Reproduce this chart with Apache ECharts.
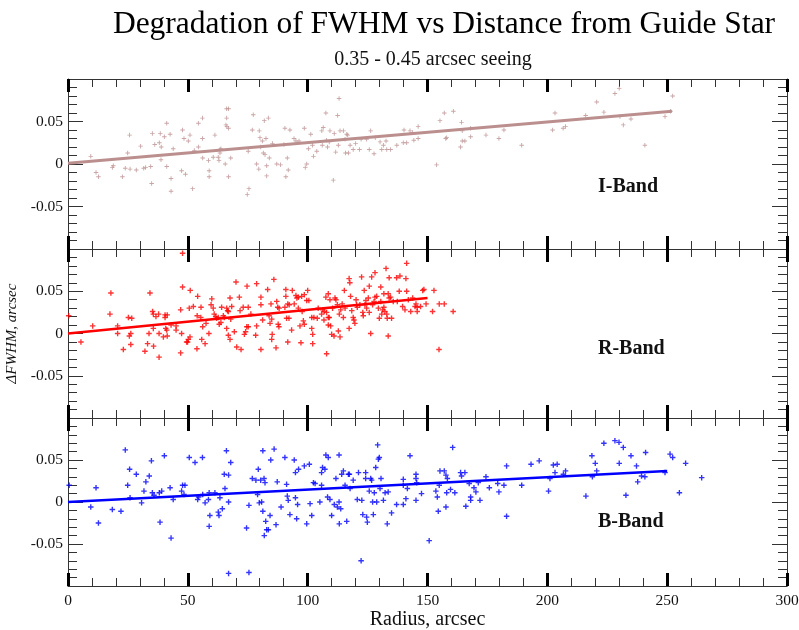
<!DOCTYPE html>
<html>
<head>
<meta charset="utf-8">
<script src="https://cdn.jsdelivr.net/npm/echarts@6/dist/echarts.min.js"></script>
<style>
  html, body { margin: 0; padding: 0; background: #fff; }
  #chart { width: 799px; height: 630px; }
</style>
</head>
<body>
<div id="chart"></div>
<script>
// x ticks and band names
var xTicks = [0, 50, 100, 150, 200, 250, 300];
var bands = ['I-Band', 'R-Band', 'B-Band'];

// I-band points [radius, dFWHM]
var iBand = [
  [9.5,0.009],[11.7,-0.010],[12.7,-0.015],[18.9,-0.002],[18.5,-0.004],[22.7,-0.015],[23.9,-0.005],[24.9,0.013],
  [25.7,0.034],[25.9,-0.006],[28.5,-0.007],[30.3,0.021],[31.6,-0.005],[32.4,-0.004],[34.5,-0.003],[34.9,-0.023],
  [35.2,0.036],[36.2,0.023],[38.1,0.025],[38.5,0.036],[38.9,0.020],[38.8,0.005],[40.2,0.032],[41.2,0.048],
  [41.2,-0.003],[42.6,0.035],[43.0,-0.017],[43.0,-0.032],[43.9,0.018],[47.4,-0.008],[47.8,0.040],[48.4,0.030],
  [49.0,-0.012],[50.2,0.027],[50.9,0.034],[52.0,-0.029],[52.7,0.016],[54.4,0.048],[54.4,0.020],[56.1,0.054],
  [56.1,0.030],[56.2,0.007],[58.6,0.004],[58.9,-0.008],[58.9,-0.015],[60.6,0.008],[61.3,0.034],[62.7,0.008],
  [63.0,0.004],[63.4,0.017],[63.4,0.013],[63.8,0.018],[65.6,0.000],[65.9,0.046],[66.2,0.054],[66.2,0.065],
  [67.0,0.065],[66.3,0.044],[67.0,0.042],[67.0,-0.015],[67.9,0.007],[74.8,-0.036],[75.5,-0.029],[75.2,0.015],
  [77.3,0.058],[76.9,0.040],[78.7,0.000],[79.6,-0.006],[79.8,0.039],[80.1,0.031],[80.4,0.020],[81.1,0.027],
  [81.5,0.013],[81.9,0.051],[82.2,0.011],[82.6,0.030],[82.9,-0.014],[82.9,-0.002],[83.6,0.054],[84.0,0.007],
  [85.3,0.024],[87.1,0.000],[88.7,-0.001],[90.1,0.023],[90.5,0.042],[90.9,-0.015],[91.5,0.007],[91.9,-0.007],
  [92.6,0.040],[94.3,0.030],[95.1,0.027],[96.4,0.027],[98.6,0.042],[99.0,-0.004],[99.6,0.000],[100.3,0.018],
  [101.3,0.035],[102.0,0.022],[102.4,0.009],[103.8,0.015],[105.9,0.039],[106.1,0.022],[106.5,0.043],[107.6,0.060],
  [107.9,0.028],[108.3,0.020],[109.0,0.026],[109.3,0.039],[110.7,-0.019],[111.1,0.036],[111.7,0.014],[112.5,0.057],
  [112.8,0.022],[113.1,0.077],[113.5,0.039],[114.9,0.039],[115.6,0.029],[115.8,0.013],[116.3,0.035],[116.7,0.034],
  [117.0,0.013],[117.7,0.022],[119.0,0.017],[120.0,0.024],[121.6,0.017],[122.3,0.029],[124.6,0.029],[126.3,0.039],
  [125.7,0.017],[127.7,0.012],[128.2,0.031],[130.2,0.026],[130.9,0.017],[131.6,0.022],[132.7,0.027],[133.0,0.017],
  [134.6,0.017],[137.2,0.022],[139.9,0.025],[141.3,0.025],[140.2,0.040],[142.7,0.039],[143.8,0.037],[144.3,0.028],
  [146.1,0.030],[146.1,0.044],[153.8,-0.001],[155.2,0.051],[157.0,0.060],[157.6,0.030],[158.0,0.031],[160.8,0.062],
  [163.8,0.020],[164.2,0.049],[164.5,0.039],[164.5,0.027],[165.6,0.027],[168.0,0.032],[168.0,0.042],[174.4,0.034],
  [179.8,0.030],[181.9,0.040],[189.3,0.022],[202.2,0.040],[203.2,0.060],[206.6,0.042],[207.6,0.044],[216.0,0.057],
  [220.6,0.073],[223.6,0.061],[228.2,0.083],[230.0,0.089],[230.3,0.056],[231.7,0.046],[234.9,0.053],[240.7,0.022],
  [249.1,0.056],[251.4,0.062],[252.3,0.080]
];

// R-band points
var rBand = [
  [0.3,0.021],[5.4,-0.010],[10.3,0.009],[17.5,0.023],[17.9,0.048],[20.7,0.009],[20.7,0.000],[23.1,-0.019],
  [25.2,0.019],[26.6,0.018],[26.2,0.000],[25.6,-0.003],[26.2,-0.013],[32.1,-0.021],[33.2,-0.012],[33.8,0.000],
  [34.2,0.048],[35.3,0.026],[35.6,0.023],[36.7,0.020],[35.6,0.006],[35.7,-0.015],[37.8,0.023],[38.0,0.000],
  [38.0,-0.028],[39.8,-0.004],[40.5,0.022],[40.5,0.019],[40.8,0.006],[41.2,0.004],[41.4,-0.003],[41.4,0.022],
  [43.0,0.010],[45.1,0.009],[45.1,0.004],[47.0,0.028],[47.4,0.000],[47.0,-0.023],[47.8,0.055],[47.8,0.095],
  [49.5,-0.010],[50.2,-0.007],[50.6,0.030],[49.9,-0.010],[50.9,-0.004],[51.0,0.051],[52.3,0.032],[54.1,0.044],
  [53.9,0.021],[55.5,0.031],[55.4,0.019],[55.8,-0.007],[56.2,0.008],[57.2,-0.012],[57.6,0.012],[58.8,0.000],
  [53.8,-0.018],[60.0,0.041],[59.7,0.034],[60.6,0.030],[61.0,0.023],[61.6,0.020],[62.0,0.018],[62.7,0.019],
  [63.1,0.011],[63.8,0.013],[64.1,0.031],[64.8,0.021],[65.2,0.019],[66.2,0.030],[66.6,0.027],[66.9,0.026],
  [67.6,0.042],[68.3,0.032],[67.9,0.017],[66.2,0.006],[66.9,-0.002],[67.6,-0.007],[69.4,0.002],[70.1,0.061],
  [70.4,-0.016],[71.5,0.043],[71.8,0.027],[72.2,-0.019],[73.1,0.031],[73.6,-0.001],[74.1,0.002],[74.6,0.008],
  [74.7,0.056],[75.2,0.008],[75.2,0.031],[76.3,0.023],[78.3,-0.002],[78.7,0.059],[78.7,0.009],[80.5,0.043],
  [80.5,0.034],[80.5,-0.019],[81.2,0.016],[83.3,0.052],[83.9,0.021],[84.3,0.012],[84.7,0.035],[85.0,0.017],
  [85.0,-0.007],[85.2,-0.001],[85.9,0.064],[86.8,-0.017],[87.1,0.038],[87.5,0.031],[87.7,0.011],[88.0,0.008],
  [88.1,0.030],[90.9,0.052],[90.9,0.044],[90.5,0.031],[91.2,0.018],[91.7,0.035],[91.7,-0.010],[92.2,0.018],
  [92.3,0.034],[93.3,0.004],[93.6,0.051],[94.4,0.035],[95.1,0.045],[95.5,0.042],[96.1,0.043],[96.1,0.030],
  [96.8,0.009],[97.2,-0.011],[97.5,0.044],[97.7,0.026],[98.2,0.015],[98.6,0.011],[98.6,0.046],[99.6,0.039],
  [100.0,0.051],[100.5,0.039],[101.7,0.019],[101.7,0.006],[102.1,-0.001],[102.6,0.019],[104.0,0.018],[104.4,0.030],
  [102.1,-0.012],[105.8,0.023],[106.3,0.028],[106.8,0.016],[106.9,0.026],[107.6,0.043],[107.9,-0.024],[107.9,0.025],
  [108.6,0.047],[108.6,0.019],[109.0,0.019],[109.3,0.040],[109.6,0.009],[108.6,0.010],[110.0,-0.001],[110.4,0.030],
  [111.0,-0.003],[111.4,0.042],[111.8,0.040],[112.4,0.034],[112.8,0.003],[113.2,0.023],[113.5,-0.004],[113.8,0.028],
  [114.4,0.035],[114.9,0.019],[115.3,0.051],[115.6,0.030],[117.3,0.065],[117.6,0.060],[117.3,0.006],[117.9,0.044],
  [118.4,0.027],[119.0,0.019],[119.3,0.016],[119.7,0.012],[120.2,0.040],[120.4,0.034],[120.7,0.031],[121.8,0.034],
  [122.5,0.067],[123.0,0.025],[123.2,0.021],[123.6,0.051],[123.9,0.034],[124.3,0.039],[124.6,0.030],[125.3,0.042],
  [125.7,0.025],[125.7,0.056],[126.3,0.000],[126.7,0.067],[127.1,0.034],[127.7,0.038],[128.1,0.072],[128.1,0.043],
  [128.8,0.044],[129.5,0.030],[129.9,0.018],[130.5,0.055],[130.5,0.038],[130.9,0.023],[131.3,0.028],[131.8,0.047],
  [131.8,0.031],[132.2,0.026],[132.7,0.077],[133.0,0.023],[133.2,0.018],[133.6,0.047],[133.6,-0.003],[134.0,0.066],
  [134.0,0.042],[134.6,0.043],[135.0,0.018],[135.7,0.038],[137.1,0.066],[137.4,0.038],[138.2,0.050],[138.5,0.068],
  [139.6,0.032],[140.6,0.028],[141.0,0.065],[141.3,0.083],[141.3,0.050],[142.0,0.040],[143.0,0.026],[143.8,0.042],
  [144.8,0.032],[145.2,0.035],[145.7,0.026],[145.7,0.031],[147.1,0.032],[148.0,0.051],[148.5,0.052],[149.4,0.035],
  [152.1,0.026],[152.7,0.051],[154.9,0.035],[154.8,-0.019],[157.0,0.035],[160.7,0.026]
];

// B-band points
var bBand = [
  [0.5,0.020],[9.5,-0.006],[11.7,0.017],[12.7,-0.025],[18.5,-0.009],[22.1,-0.011],[23.9,0.062],[24.9,0.020],
  [25.7,0.039],[25.9,0.005],[28.5,0.033],[30.7,-0.001],[31.7,0.013],[32.5,0.024],[33.9,0.031],[34.8,0.049],
  [35.2,0.011],[35.9,0.008],[38.1,0.011],[38.4,-0.024],[39.1,0.013],[40.2,0.055],[42.6,0.017],[43.0,-0.043],
  [43.9,0.003],[47.4,0.013],[47.8,0.020],[48.8,0.020],[48.4,0.009],[50.6,0.053],[53.0,0.047],[54.1,0.003],
  [54.5,0.006],[56.1,0.053],[56.2,0.009],[57.2,-0.001],[58.6,0.003],[58.9,0.011],[58.9,-0.029],[59.2,-0.016],
  [61.3,0.011],[62.7,-0.012],[63.0,-0.016],[63.4,0.005],[64.4,-0.008],[65.2,0.033],[65.5,0.016],[66.1,0.061],
  [67.0,0.032],[67.0,0.000],[67.0,-0.085],[67.9,0.047],[74.5,-0.031],[75.5,-0.004],[75.5,-0.084],[76.9,0.028],
  [78.4,0.026],[79.4,0.039],[79.1,0.009],[79.8,-0.001],[80.4,0.026],[80.8,0.000],[81.3,0.061],[81.3,-0.011],
  [81.8,0.028],[81.9,-0.040],[82.2,0.023],[82.5,-0.023],[82.9,-0.033],[83.6,-0.033],[84.3,-0.016],[84.6,0.050],
  [86.0,0.063],[86.8,-0.027],[87.3,0.024],[88.9,-0.006],[90.5,0.053],[91.2,0.021],[91.5,0.007],[91.9,0.002],
  [92.6,-0.015],[94.4,0.050],[94.9,0.035],[95.4,-0.020],[96.2,0.039],[94.9,0.005],[95.8,-0.003],[98.6,0.043],
  [99.6,-0.026],[100.7,0.045],[101.0,-0.002],[101.7,-0.016],[102.4,0.023],[103.1,0.022],[105.1,0.000],[105.8,0.035],
  [105.8,0.020],[106.2,0.041],[107.2,0.039],[107.6,0.056],[108.6,0.053],[108.3,0.006],[109.3,0.003],[110.0,-0.016],
  [111.1,-0.003],[111.8,0.028],[112.4,-0.006],[113.1,0.056],[113.1,0.000],[113.2,-0.026],[113.8,-0.008],[114.2,0.033],
  [114.9,0.037],[115.6,0.020],[116.3,-0.023],[117.0,0.033],[117.4,0.033],[117.7,0.016],[119.0,0.026],[120.7,0.003],
  [121.2,0.035],[122.3,-0.070],[122.6,0.002],[123.0,-0.015],[124.2,0.035],[124.2,0.028],[124.6,-0.018],[124.9,-0.024],
  [125.7,0.013],[126.3,0.028],[126.7,0.026],[127.1,0.000],[127.4,-0.015],[127.8,0.011],[128.4,0.041],[128.8,0.000],
  [129.2,0.068],[129.5,0.051],[129.9,0.053],[130.2,0.016],[130.6,0.028],[131.6,0.002],[132.3,0.011],[133.2,-0.026],
  [133.6,0.012],[135.0,-0.013],[137.1,-0.003],[139.9,0.027],[139.9,0.020],[139.9,-0.003],[141.0,0.004],[141.6,0.016],
  [142.7,0.055],[145.2,0.033],[145.2,0.028],[145.5,0.023],[145.2,0.002],[147.5,0.010],[150.7,-0.046],[153.5,0.013],
  [154.1,0.006],[154.5,-0.011],[154.9,0.020],[155.2,0.037],[157.0,0.037],[157.7,0.032],[158.0,0.011],[158.3,0.028],
  [157.7,-0.006],[159.6,0.015],[160.5,0.065],[161.4,0.011],[163.8,0.035],[164.2,0.031],[165.6,0.035],[166.0,-0.005],
  [167.4,0.022],[168.0,0.002],[168.0,0.006],[169.4,0.017],[170.2,0.012],[171.2,0.023],[171.9,0.002],[174.4,0.030],
  [175.8,0.017],[179.3,0.022],[179.8,0.012],[181.9,0.020],[183.0,0.043],[183.0,-0.017],[189.3,0.020],[193.2,0.045],
  [196.6,0.049],[200.5,0.013],[201.1,0.028],[202.5,0.044],[203.2,0.035],[204.1,0.045],[206.7,0.033],[207.6,0.037],
  [216.1,0.007],[218.6,0.055],[218.8,0.030],[220.0,0.046],[220.6,0.037],[223.6,0.070],[228.2,0.073],[229.9,0.071],
  [230.0,0.046],[231.7,0.065],[232.8,0.008],[234.9,0.055],[237.2,0.043],[237.7,0.024],[239.3,0.031],[240.7,0.030],
  [241.0,0.059],[249.1,0.035],[251.2,0.057],[252.3,0.053],[255.1,0.011],[257.7,0.046],[264.4,0.029]
];

// linear fits (end points)
var iFit = [[0, 0.001], [252, 0.062]];
var rFit = [[0, 0.000], [150, 0.042]];
var bFit = [[0, 0.000], [250, 0.037]];

var colors = ['#bc8f8f', '#ff0000', '#0000ff'];
var pointSets = [iBand, rBand, bBand];
var fitSets = [iFit, rFit, bFit];

var serif = '"Liberation Serif", "DejaVu Serif", serif';
var thinPlus = 'path://M2,0 L3,0 L3,2 L5,2 L5,3 L3,3 L3,5 L2,5 L2,3 L0,3 L0,2 L2,2 Z';
var boldPlus = 'path://M3,0 L5,0 L5,3 L8,3 L8,5 L5,5 L5,8 L3,8 L3,5 L0,5 L0,3 L3,3 Z';
var axisColor = '#333';

// outerBoundsMode none: keep the panels where they are, labels may reach the edge
var grids = [
  { left: 68, right: 12, top: 79, height: 170, outerBoundsMode: 'none' },
  { left: 68, right: 12, top: 249, height: 169, outerBoundsMode: 'none' },
  { left: 68, right: 12, top: 418, height: 168, outerBoundsMode: 'none' }
];

var xAxes = [], yAxes = [], series = [];
for (var i = 0; i < 3; i++) {
  var isLast = i === 2;
  // bottom x axis
  xAxes.push({
    gridIndex: i, type: 'value', position: 'bottom',
    min: xTicks[0], max: xTicks[xTicks.length - 1], interval: 50,
    axisLine: { show: true, onZero: false, lineStyle: { color: axisColor, width: 1 } },
    axisTick: { show: true, inside: true, length: 13, lineStyle: { color: '#000', width: 3 } },
    minorTick: { show: true, splitNumber: 5, length: 8, lineStyle: { color: axisColor, width: 1 } },
    splitLine: { show: false },
    axisLabel: { show: isLast, color: '#111', fontFamily: serif, fontSize: 15.5, margin: 7 },
    name: isLast ? 'Radius, arcsec' : '',
    nameLocation: 'middle', nameGap: 22,
    nameTextStyle: { color: '#111', fontFamily: serif, fontSize: 20 }
  });
  // top x axis (ticks only)
  xAxes.push({
    gridIndex: i, type: 'value', position: 'top',
    min: 0, max: 300, interval: 50,
    axisLine: { show: true, onZero: false, lineStyle: { color: axisColor, width: 1 } },
    axisTick: { show: true, inside: true, length: 13, lineStyle: { color: '#000', width: 3 } },
    minorTick: { show: true, splitNumber: 5, length: 8, lineStyle: { color: axisColor, width: 1 } },
    splitLine: { show: false },
    axisLabel: { show: false }
  });
  // left y axis
  yAxes.push({
    gridIndex: i, type: 'value', position: 'left',
    min: -0.1, max: 0.1, interval: 0.05,
    axisLine: { show: true, onZero: false, lineStyle: { color: axisColor, width: 1 } },
    axisTick: { show: true, inside: true, length: 15, lineStyle: { color: axisColor, width: 1 } },
    minorTick: { show: true, splitNumber: 5, length: 9, lineStyle: { color: axisColor, width: 1 } },
    splitLine: { show: false },
    axisLabel: {
      color: '#111', fontFamily: serif, fontSize: 15.5, margin: 5,
      formatter: function (v) {
        if (Math.abs(v) > 0.09) return '';
        if (Math.abs(v) < 1e-9) return '0';
        return String(Math.round(v * 100) / 100);
      }
    },
    name: i === 1 ? 'ΔFWHM, arcsec' : '',
    nameLocation: 'middle', nameRotate: 90, nameGap: 43,
    nameTextStyle: { color: '#111', fontFamily: serif, fontSize: 15, fontStyle: 'italic' }
  });
  // right y axis (ticks only)
  yAxes.push({
    gridIndex: i, type: 'value', position: 'right',
    min: -0.1, max: 0.1, interval: 0.05,
    axisLine: { show: true, onZero: false, lineStyle: { color: axisColor, width: 1 } },
    axisTick: { show: true, inside: true, length: 15, lineStyle: { color: axisColor, width: 1 } },
    minorTick: { show: true, splitNumber: 5, length: 9, lineStyle: { color: axisColor, width: 1 } },
    splitLine: { show: false },
    axisLabel: { show: false }
  });

  series.push({
    type: 'scatter', xAxisIndex: i * 2, yAxisIndex: i * 2,
    data: pointSets[i], symbol: i === 0 ? thinPlus : boldPlus, symbolSize: i === 0 ? 4.5 : 5.5,
    itemStyle: { color: colors[i] }, silent: true, z: 3
  });
  series.push({
    type: 'line', xAxisIndex: i * 2, yAxisIndex: i * 2,
    data: fitSets[i], showSymbol: false, symbol: 'none',
    lineStyle: { color: colors[i], width: i === 0 ? 3 : 2.5 }, silent: true, z: 4
  });
}

var bandY = [187, 349, 522];
var chart = echarts.init(document.getElementById('chart'), null, { renderer: 'canvas' });
chart.setOption({
  backgroundColor: '#fff',
  animation: false,
  title: [
    {
      text: 'Degradation of FWHM vs Distance from Guide Star',
      left: 439, top: 4, textAlign: 'center',
      textStyle: { fontFamily: serif, fontSize: 31.5, fontWeight: 'normal', color: '#000' }
    },
    {
      text: '0.35 - 0.45 arcsec seeing',
      left: 428, top: 45, textAlign: 'center',
      textStyle: { fontFamily: serif, fontSize: 20, fontWeight: 'normal', color: '#111' }
    }
  ],
  grid: grids,
  xAxis: xAxes,
  yAxis: yAxes,
  series: series,
  graphic: bands.map(function (b, k) {
    return {
      type: 'text', left: 598, top: bandY[k] - 10,
      style: { text: b, font: 'bold 20px ' + serif, fill: '#111' }
    };
  })
});
</script>
</body>
</html>
